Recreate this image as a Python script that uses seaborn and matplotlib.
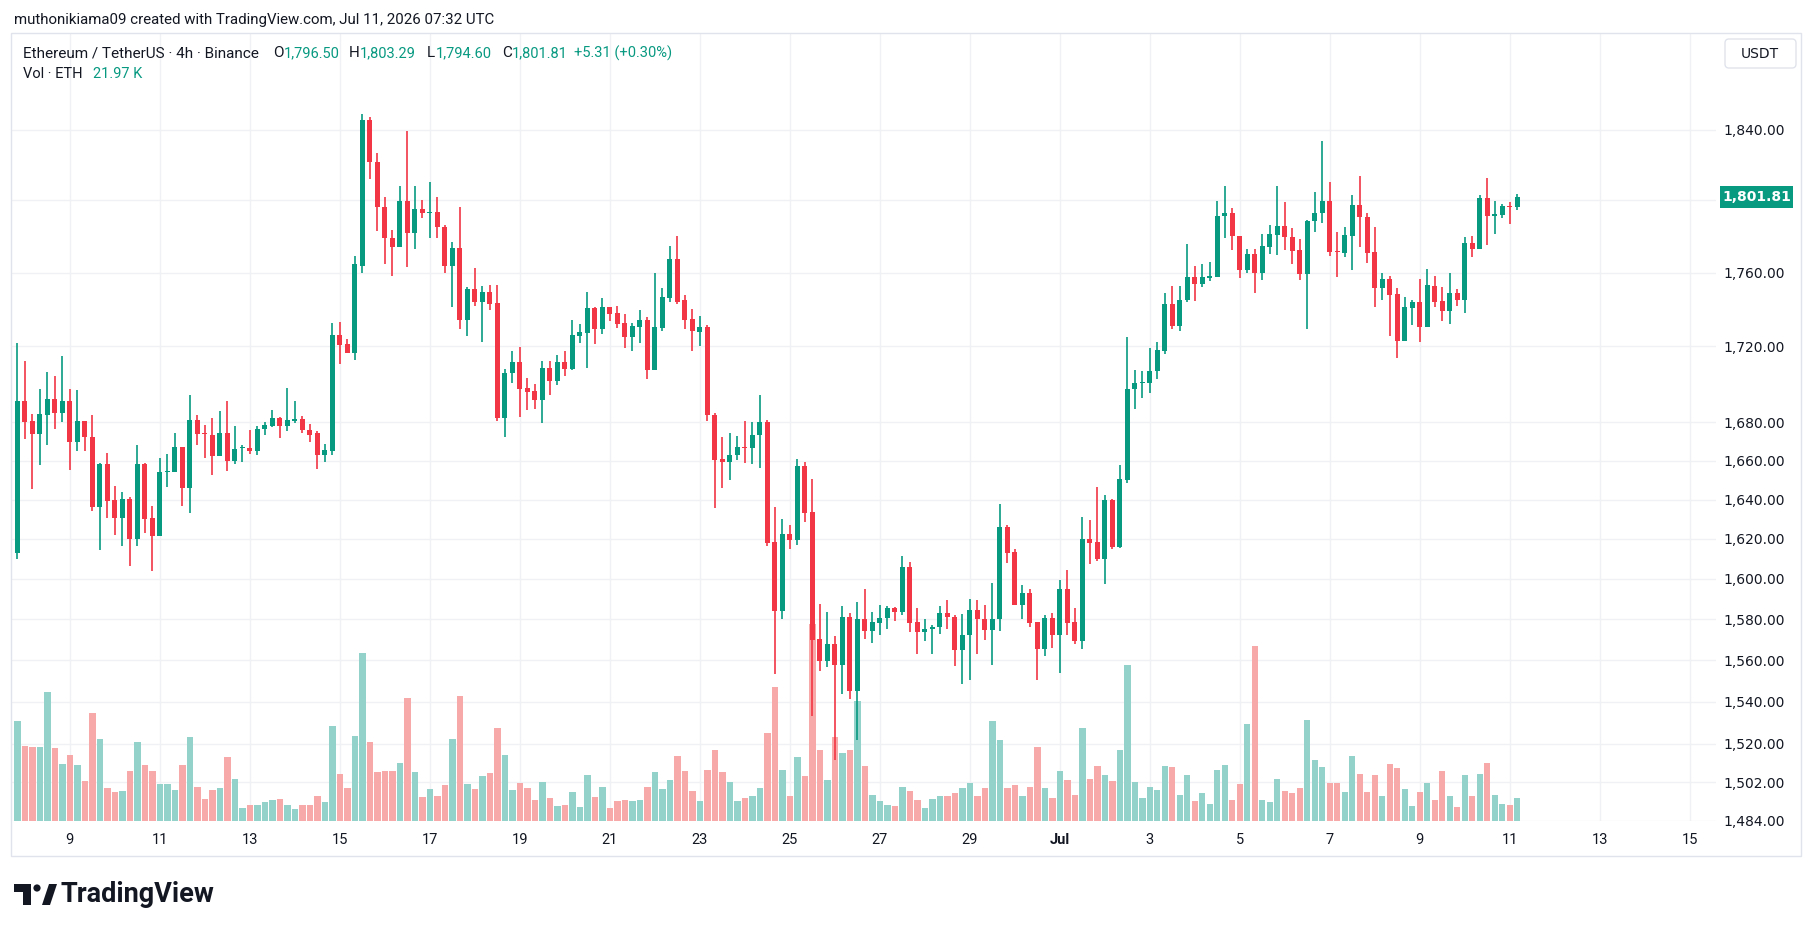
import numpy as np
import pandas as pd
import matplotlib
matplotlib.use("Agg")
import matplotlib.pyplot as plt
import matplotlib.transforms as mtransforms
from matplotlib.patches import Rectangle, FancyBboxPatch, Polygon, Circle
from matplotlib.ticker import NullLocator
import seaborn as sns

sns.set_style("white")
plt.rcParams["font.family"] = ["Roboto", "DejaVu Sans"]

# ETH/USDT 4h candles, first bar Jun 7 20:00 UTC, last bar Jul 11 04:00 UTC
first_bar = "2026-06-07 20:00"

opens = [
    1612.9, 1690.8, 1680.3, 1673.6, 1683.8, 1692.1, 1684.8, 1690.8, 1669.4, 1680.3,
    1672.3, 1636.4, 1658.0, 1640.0, 1630.8, 1640.2, 1620.0, 1658.3, 1630.6, 1621.7,
    1654.1, 1654.3, 1666.9, 1645.9, 1681.3, 1674.1, 1673.3, 1662.2, 1674.1, 1660.0,
    1666.4, 1666.7, 1665.2, 1676.3, 1678.0, 1682.3, 1678.0, 1680.8, 1681.8, 1676.0,
    1674.1, 1662.7, 1665.2, 1726.1, 1721.3, 1716.7, 1763.8, 1845.4, 1821.8, 1796.3,
    1778.8, 1773.8, 1799.7, 1782.0, 1795.2, 1792.8, 1793.4, 1784.9, 1763.4, 1773.5,
    1734.4, 1750.9, 1744.1, 1749.6, 1743.3, 1682.0, 1705.7, 1711.7, 1697.9, 1696.3,
    1691.6, 1708.4, 1701.4, 1711.7, 1708.2, 1725.8, 1727.3, 1740.8, 1729.1, 1741.3,
    1738.0, 1732.7, 1725.3, 1730.6, 1734.2, 1707.2, 1729.9, 1746.1, 1767.7, 1744.8,
    1734.7, 1727.8, 1730.4, 1683.5, 1661.0, 1659.5, 1662.7, 1666.9, 1666.4, 1673.1,
    1679.8, 1618.4, 1584.3, 1622.4, 1619.3, 1657.3, 1633.5, 1570.3, 1559.5, 1568.0,
    1557.7, 1581.2, 1545.1, 1580.2, 1574.5, 1578.2, 1580.5, 1585.7, 1583.8, 1605.9,
    1578.6, 1574.0, 1575.2, 1576.1, 1583.1, 1581.2, 1564.8, 1572.2, 1584.8, 1580.2,
    1574.9, 1580.0, 1625.8, 1613.2, 1586.9, 1592.9, 1578.6, 1565.3, 1580.7, 1572.2,
    1595.2, 1578.6, 1569.6, 1620.2, 1618.4, 1609.7, 1639.8, 1615.8, 1650.0, 1697.4,
    1700.6, 1700.6, 1706.7, 1717.7, 1742.8, 1731.1, 1745.1, 1757.7, 1753.7, 1757.2,
    1757.5, 1791.0, 1793.1, 1780.4, 1761.3, 1770.1, 1759.7, 1774.3, 1780.9, 1785.7,
    1779.6, 1772.2, 1759.0, 1788.3, 1792.8, 1799.7, 1771.9, 1770.9, 1780.4, 1797.6,
    1790.7, 1771.1, 1751.7, 1756.7, 1748.1, 1723.0, 1740.8, 1743.8, 1730.6, 1752.9,
    1744.3, 1739.3, 1748.6, 1745.1, 1776.2, 1773.0, 1801.3, 1791.0, 1792.0, 1797.1,
    1796.50,
]
highs = [
    1722.0, 1712.2, 1684.0, 1697.4, 1706.2, 1704.2, 1714.7, 1697.4, 1696.9, 1680.8,
    1683.5, 1658.8, 1663.9, 1646.8, 1643.9, 1641.5, 1668.2, 1658.8, 1636.6, 1661.5,
    1663.5, 1674.1, 1666.9, 1694.1, 1683.5, 1678.5, 1682.3, 1686.0, 1691.3, 1678.0,
    1668.2, 1676.0, 1678.0, 1679.8, 1686.5, 1682.8, 1697.9, 1690.8, 1683.0, 1679.0,
    1675.1, 1668.6, 1732.6, 1733.2, 1724.1, 1769.0, 1849.1, 1847.0, 1826.6, 1802.1,
    1783.6, 1808.3, 1839.5, 1808.3, 1800.3, 1810.5, 1802.1, 1786.2, 1776.7, 1796.3,
    1751.9, 1762.6, 1752.9, 1753.4, 1753.4, 1707.9, 1717.5, 1719.7, 1703.4, 1699.9,
    1712.2, 1712.2, 1715.5, 1717.7, 1734.2, 1731.9, 1749.6, 1741.3, 1746.1, 1741.3,
    1741.8, 1737.2, 1732.7, 1739.5, 1735.7, 1759.5, 1751.4, 1774.6, 1780.1, 1747.9,
    1740.0, 1736.2, 1731.4, 1684.8, 1672.3, 1674.1, 1672.6, 1680.8, 1679.8, 1694.1,
    1681.3, 1636.1, 1629.9, 1627.0, 1661.0, 1659.3, 1650.5, 1587.6, 1583.6, 1572.0,
    1586.7, 1582.9, 1588.3, 1594.8, 1583.6, 1587.1, 1586.7, 1586.2, 1611.3, 1608.3,
    1585.7, 1580.2, 1577.2, 1586.7, 1589.3, 1582.1, 1582.4, 1589.8, 1589.3, 1587.1,
    1597.9, 1637.6, 1627.0, 1614.8, 1597.1, 1594.8, 1578.6, 1582.1, 1583.1, 1599.3,
    1604.2, 1585.7, 1631.1, 1629.4, 1646.3, 1642.2, 1640.2, 1657.8, 1725.1, 1707.4,
    1706.9, 1719.2, 1722.3, 1749.1, 1752.9, 1752.9, 1775.6, 1763.7, 1764.5, 1765.8,
    1799.7, 1807.8, 1795.5, 1780.4, 1772.7, 1773.2, 1781.2, 1786.2, 1808.3, 1799.2,
    1784.6, 1778.5, 1789.1, 1804.8, 1833.3, 1810.5, 1782.2, 1785.2, 1803.2, 1813.5,
    1793.1, 1785.2, 1759.5, 1758.2, 1751.4, 1746.6, 1745.1, 1756.7, 1762.1, 1758.2,
    1751.9, 1759.5, 1750.9, 1779.6, 1780.1, 1803.2, 1812.4, 1799.7, 1798.1, 1799.2,
    1803.29,
]
lows = [
    1609.9, 1671.4, 1645.4, 1657.6, 1667.9, 1676.3, 1679.8, 1654.9, 1664.7, 1665.2,
    1634.2, 1614.6, 1630.8, 1622.2, 1616.5, 1606.6, 1616.5, 1623.1, 1604.0, 1621.7,
    1646.6, 1654.3, 1636.9, 1633.3, 1667.9, 1661.2, 1652.4, 1662.2, 1654.4, 1658.0,
    1659.5, 1663.5, 1662.7, 1673.1, 1677.3, 1671.8, 1675.3, 1679.3, 1674.1, 1669.4,
    1655.4, 1659.5, 1662.9, 1710.4, 1716.7, 1713.0, 1760.0, 1811.8, 1783.0, 1764.8,
    1758.0, 1773.8, 1763.2, 1773.0, 1789.9, 1779.1, 1778.8, 1759.5, 1741.3, 1729.6,
    1725.8, 1742.0, 1722.5, 1739.8, 1680.5, 1672.1, 1700.6, 1682.5, 1686.3, 1687.0,
    1679.3, 1694.3, 1699.6, 1704.4, 1707.2, 1722.0, 1708.7, 1721.3, 1726.9, 1733.9,
    1730.1, 1719.2, 1717.7, 1722.0, 1702.9, 1707.2, 1728.1, 1744.1, 1742.8, 1729.4,
    1717.7, 1720.5, 1680.8, 1635.9, 1645.9, 1650.0, 1660.5, 1658.5, 1658.3, 1656.1,
    1616.7, 1553.3, 1580.2, 1615.1, 1617.2, 1628.4, 1533.3, 1554.9, 1556.8, 1512.4,
    1543.9, 1541.2, 1521.6, 1570.3, 1568.3, 1572.2, 1575.4, 1579.3, 1581.9, 1573.6,
    1563.2, 1569.6, 1562.8, 1572.6, 1575.4, 1557.2, 1548.7, 1550.6, 1562.8, 1570.1,
    1557.9, 1574.5, 1608.0, 1586.9, 1580.0, 1576.1, 1550.6, 1562.3, 1566.0, 1553.6,
    1572.2, 1567.8, 1565.7, 1607.5, 1609.0, 1597.6, 1615.1, 1615.5, 1648.3, 1686.8,
    1692.8, 1695.3, 1702.9, 1716.2, 1729.6, 1728.3, 1744.1, 1744.6, 1752.2, 1755.2,
    1757.5, 1779.1, 1772.4, 1757.0, 1760.0, 1748.9, 1756.0, 1770.1, 1769.8, 1772.4,
    1764.8, 1756.0, 1729.6, 1782.5, 1787.5, 1769.3, 1757.5, 1768.5, 1761.3, 1773.8,
    1765.3, 1741.5, 1745.1, 1725.8, 1714.0, 1723.0, 1731.6, 1722.5, 1730.6, 1741.3,
    1733.9, 1732.1, 1742.0, 1738.2, 1768.5, 1773.0, 1775.4, 1781.5, 1789.9, 1786.9,
    1794.60,
]
closes = [
    1690.8, 1679.8, 1673.6, 1684.0, 1692.1, 1684.8, 1690.8, 1669.4, 1680.3, 1672.1,
    1636.4, 1658.0, 1639.3, 1630.8, 1640.2, 1620.0, 1658.3, 1630.1, 1621.7, 1654.1,
    1654.6, 1666.9, 1645.9, 1681.3, 1673.6, 1673.6, 1662.2, 1674.1, 1660.0, 1666.2,
    1666.9, 1664.9, 1676.5, 1678.7, 1682.0, 1678.0, 1681.3, 1681.8, 1675.8, 1673.3,
    1662.7, 1665.4, 1726.1, 1720.8, 1716.7, 1764.5, 1845.4, 1821.8, 1796.0, 1778.8,
    1773.8, 1799.7, 1782.0, 1795.2, 1792.8, 1793.6, 1784.9, 1763.4, 1773.5, 1734.4,
    1750.9, 1744.1, 1749.6, 1742.8, 1682.0, 1705.9, 1711.7, 1697.6, 1695.8, 1691.6,
    1708.4, 1701.4, 1711.7, 1708.2, 1726.1, 1727.8, 1740.5, 1729.1, 1741.3, 1737.7,
    1732.1, 1725.3, 1730.9, 1734.2, 1707.2, 1730.4, 1746.6, 1767.7, 1743.8, 1734.4,
    1728.1, 1730.4, 1683.5, 1660.5, 1659.5, 1663.0, 1666.9, 1666.4, 1673.3, 1679.8,
    1617.9, 1584.3, 1622.4, 1619.3, 1657.3, 1633.3, 1569.9, 1559.5, 1568.0, 1557.7,
    1581.2, 1545.1, 1580.2, 1574.5, 1578.6, 1580.7, 1585.7, 1583.8, 1605.9, 1578.4,
    1574.0, 1575.2, 1576.3, 1583.1, 1581.0, 1564.8, 1572.4, 1584.8, 1580.0, 1574.9,
    1580.2, 1625.8, 1612.9, 1586.9, 1592.9, 1578.4, 1565.3, 1580.7, 1572.2, 1595.2,
    1578.4, 1569.6, 1620.2, 1618.1, 1609.7, 1639.8, 1615.8, 1650.5, 1697.4, 1700.4,
    1701.1, 1706.9, 1718.0, 1742.8, 1731.1, 1745.3, 1757.7, 1753.7, 1757.7, 1758.0,
    1791.3, 1793.1, 1780.4, 1761.3, 1770.1, 1759.7, 1774.6, 1781.2, 1785.7, 1779.4,
    1771.9, 1759.0, 1788.6, 1793.1, 1799.7, 1771.4, 1771.4, 1780.7, 1797.6, 1790.5,
    1770.9, 1751.7, 1756.7, 1747.9, 1723.0, 1741.3, 1743.8, 1730.6, 1753.4, 1744.1,
    1739.3, 1748.6, 1745.1, 1776.2, 1773.0, 1801.3, 1791.0, 1792.6, 1797.1, 1796.5,
    1801.81,
]
# volume in thousands of ETH
volumes = [
    96.6, 72.4, 71.4, 71.4, 125.0, 70.5, 55.0, 63.7, 54.0, 38.5,
    105.3, 79.2, 31.6, 27.9, 28.9, 49.0, 76.5, 54.0, 48.1, 35.7,
    35.7, 29.8, 54.0, 82.0, 33.4, 21.1, 29.8, 32.5, 61.8, 41.2,
    12.4, 16.0, 16.0, 18.3, 20.2, 21.1, 15.1, 11.5, 16.0, 15.1,
    23.8, 18.3, 92.1, 45.3, 32.5, 82.9, 163.5, 76.5, 47.2, 49.0,
    49.0, 55.9, 119.1, 47.2, 22.9, 30.7, 23.8, 34.8, 79.2, 121.8,
    35.7, 30.7, 43.5, 46.3, 90.7, 63.7, 29.8, 36.6, 31.6, 20.2,
    37.6, 22.0, 14.2, 15.1, 27.9, 13.3, 44.4, 22.9, 33.4, 12.4,
    19.2, 20.2, 19.2, 20.2, 33.4, 47.2, 30.7, 39.4, 62.7, 48.1,
    28.9, 19.2, 49.9, 68.7, 47.2, 37.6, 19.2, 22.0, 23.8, 32.5,
    85.2, 130.5, 49.9, 23.8, 61.8, 43.5, 191.0, 68.7, 39.4, 81.1,
    66.4, 68.7, 116.3, 53.1, 25.6, 19.2, 15.1, 14.2, 33.4, 28.9,
    20.2, 12.4, 21.1, 23.8, 23.8, 27.0, 31.6, 36.6, 23.8, 32.5,
    96.6, 78.3, 32.5, 34.8, 24.7, 33.4, 71.4, 31.6, 22.0, 48.1,
    39.4, 25.6, 90.7, 40.3, 53.1, 44.4, 38.5, 68.7, 151.1, 37.6,
    22.0, 33.4, 29.8, 53.1, 52.2, 25.6, 44.4, 19.2, 27.0, 16.9,
    49.9, 54.0, 20.2, 35.7, 93.9, 169.5, 20.2, 18.3, 40.3, 28.9,
    27.0, 32.5, 98.5, 59.1, 52.2, 36.6, 36.6, 27.9, 62.7, 45.3,
    27.9, 44.4, 24.7, 55.0, 51.3, 30.7, 14.2, 27.9, 36.6, 20.2,
    49.0, 23.8, 13.3, 44.4, 23.8, 45.3, 55.9, 25.6, 16.9, 16.0,
    21.97,
]

price_ticks = [1840, 1800, 1760, 1720, 1680, 1660, 1640, 1620, 1600, 1580,
               1560, 1540, 1520, 1502, 1484]
date_ticks = ["2026-06-09", "2026-06-11", "2026-06-13", "2026-06-15", "2026-06-17",
              "2026-06-19", "2026-06-21", "2026-06-23", "2026-06-25", "2026-06-27",
              "2026-06-29", "2026-07-01", "2026-07-03", "2026-07-05", "2026-07-07",
              "2026-07-09", "2026-07-11", "2026-07-13", "2026-07-15"]

GREEN = "#089981"
RED = "#f23645"
VGREEN = "#92d2cb"
VRED = "#f7a9a9"
TXT = "#131722"
GRID = "#f0f1f4"

df = pd.DataFrame({"open": opens, "high": highs, "low": lows,
                   "close": closes, "volume": volumes})
df["time"] = pd.date_range(first_bar, periods=len(df), freq="4h")
df["x"] = np.arange(len(df))
df["up"] = np.where(df["close"] >= df["open"], "up", "down")

t0 = pd.Timestamp(first_bar)
tick_pos = [(pd.Timestamp(d) - t0) / pd.Timedelta("4h") for d in date_ticks]
tick_lab = ["Jul" if pd.Timestamp(d).day == 1 else str(pd.Timestamp(d).day)
            for d in date_ticks]

W, H = 1814, 931
fig = plt.figure(figsize=(W / 100, H / 100), dpi=100)
fig.patch.set_facecolor("white")


def rect(l, t, r, b):
    return [l / W, 1 - b / H, (r - l) / W, (b - t) / H]


pos = rect(12, 34, 1716, 821)
ylo, yhi = 1483.9, 1895.6
xlo, xhi = -0.71, 226.5

# base axes: grid + tick labels
ax = fig.add_axes(pos)
ax.set_yscale("log")
ax.set_ylim(ylo, yhi)
ax.set_xlim(xlo, xhi)
ax.yaxis.tick_right()
ax.yaxis.set_minor_locator(NullLocator())
ax.set_yticks(price_ticks)
ax.set_yticklabels(["" if v == 1800 else f"{v:,.2f}" for v in price_ticks],
                   family="DejaVu Sans")
ax.set_xticks(tick_pos)
ax.set_xticklabels(tick_lab)
for lab in ax.get_xticklabels():
    if lab.get_text() == "Jul":
        lab.set_fontweight("bold")
ax.tick_params(axis="y", length=0, pad=5, labelsize=10, labelcolor=TXT)
ax.tick_params(axis="x", length=0, pad=9, labelsize=10.5, labelcolor=TXT)
ax.grid(True, color=GRID, lw=1)
for s in ax.spines.values():
    s.set_visible(False)

# volume axes (seaborn bars)
axv = fig.add_axes(pos)
axv.patch.set_visible(False)
sns.barplot(data=df, x="x", y="volume", hue="up", native_scale=True,
            palette={"up": VGREEN, "down": VRED}, dodge=False, width=0.86,
            saturation=1, linewidth=0, errorbar=None, legend=False, ax=axv)
axv.set_xlim(xlo, xhi)
axv.set_ylim(0, 764)
axv.axis("off")

# candle axes
axc = fig.add_axes(pos)
axc.patch.set_visible(False)
axc.set_yscale("log")
axc.set_ylim(ylo, yhi)
axc.set_xlim(xlo, xhi)
cols = np.where(df["up"] == "up", GREEN, RED)
axc.vlines(df["x"], df["low"], df["high"], colors=cols, lw=1.2)
body_lo = np.minimum(df["open"], df["close"])
body_h = np.maximum(np.abs(df["close"] - df["open"]), 0.45)
axc.bar(df["x"], body_h, bottom=body_lo, width=0.68, color=cols, linewidth=0)
axc.axis("off")

px = mtransforms.IdentityTransform()

# last price tag
tag_y = axc.transData.transform((0, closes[-1]))[1]
fig.patches.append(Rectangle((1720, tag_y - 11), 73, 22, transform=px,
                             fc=GREEN, ec="none"))
fig.text(1756.5 / W, tag_y / H, f"{closes[-1]:,.2f}", ha="center", va="center",
         color="white", fontsize=10, fontweight="semibold",
         family="DejaVu Sans")

# currency box
fig.patches.append(FancyBboxPatch((1725, H - 68), 71, 29,
                                  boxstyle="round,pad=0,rounding_size=4",
                                  transform=px, fc="white", ec="#e0e3eb", lw=1))
fig.text(1760 / W, 1 - 54 / H, "USDT", ha="center", va="center",
         fontsize=10, color=TXT, family="DejaVu Sans")

# chart frame
fig.patches.append(Rectangle((11 / W, 1 - 856 / H), 1790 / W, 823 / H,
                             transform=fig.transFigure, fill=False,
                             ec="#e0e3eb", lw=1))


def ftext(x, y, s, color=TXT, size=10.5, **kw):
    fig.text(x / W, 1 - y / H, s, ha="left", va="center", color=color,
             fontsize=size, **kw)


ftext(14, 20, "muthonikiama09 created with TradingView.com, Jul 11, 2026 07:32 UTC",
      size=10.8)
ftext(23, 53, "Ethereum / TetherUS \u00b7 4h \u00b7 Binance", size=11.0)
o, h, l, c = opens[-1], highs[-1], lows[-1], closes[-1]
chg = c - o
ftext(273, 53, "O", size=11)
ftext(284, 53, f"{o:,.2f}", GREEN)
ftext(349, 53, "H", size=11)
ftext(360, 53, f"{h:,.2f}", GREEN)
ftext(427, 53, "L", size=11)
ftext(436, 53, f"{l:,.2f}", GREEN)
ftext(502, 53, "C", size=11)
ftext(512, 53, f"{c:,.2f}", GREEN)
ftext(574, 53, f"+{chg:.2f} (+{chg / o * 100:.2f}%)", GREEN)
ftext(23, 74, "Vol \u00b7 ETH")
ftext(93, 74, f"{volumes[-1]:.2f} K", GREEN)

# TradingView logo
fig.patches.append(Polygon([(14, H - 884), (31, H - 884), (31, H - 905),
                            (23, H - 905), (23, H - 892), (14, H - 892)],
                           closed=True, transform=px, fc=TXT, ec="none"))
fig.patches.append(Circle((37, H - 888), 3.6, transform=px, fc=TXT, ec="none"))
fig.patches.append(Polygon([(42, H - 905), (49, H - 884), (57, H - 884),
                            (50, H - 905)], closed=True, transform=px,
                           fc=TXT, ec="none"))
ftext(60, 894, "TradingView", size=19.5, fontweight="bold")

fig.savefig("out.png", dpi=100)
